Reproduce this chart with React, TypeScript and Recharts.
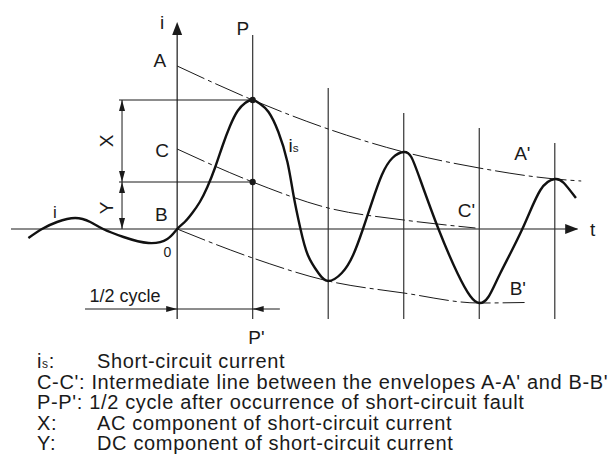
import { ComposedChart, Line, XAxis, YAxis, ReferenceLine, ReferenceDot } from "recharts";

// time in half-cycles after fault, current in arbitrary units
const waveT = [
  -1.97, -1.79, -1.59, -1.35, -1.15, -0.98, -0.71, -0.38, -0.13, 0,
  0.1, 0.2, 0.3, 0.4, 0.5, 0.6, 0.7, 0.8, 0.9, 1.0,
  1.1, 1.21, 1.34, 1.46, 1.54, 1.63, 1.73, 1.87, 2.0,
  2.18, 2.33, 2.46, 2.58, 2.71, 2.85, 3.0,
  3.1, 3.22, 3.46, 3.71, 3.88, 4.0,
  4.12, 4.28, 4.57, 4.81, 5.0, 5.12, 5.28,
];
const waveI = [
  -0.9, 0, 0.7, 1.1, 0.7, 0, -0.8, -1.4, -1.0, 0,
  0.7, 1.6, 2.7, 4.2, 6.1, 8.3, 10.3, 11.8, 12.6, 12.9,
  12.5, 11.7, 9.7, 6.7, 3.4, 0.1, -2.6, -4.4, -5.2,
  -4.4, -2.6, 0, 2.7, 5.4, 7.1, 7.7,
  7.2, 4.9, 0, -4.4, -6.7, -7.4,
  -6.8, -4.4, 0, 3.9, 5.0, 4.6, 3.1,
];

// envelopes A-A', B-B' and intermediate line C-C'
const envAT = [0, 1, 2, 3, 4, 5, 5.35];
const envAI = [16.3, 12.9, 10.0, 7.7, 6.1, 5.0, 4.8];
const envBT = [0, 1, 2, 3, 4, 4.6];
const envBI = [0, -2.9, -5.2, -6.4, -7.4, -7.35];
const envCT = [0, 1, 2, 3, 3.95];
const envCI = [8.0, 4.7, 2.1, 0.9, 0.1];

// peaks / troughs marked by vertical lines (t, top of line)
const markT = [1, 2, 3, 4, 5];
const markTop = [19.4, 14.1, 11.6, 10.1, 8.6];

const peakI = 12.9; // X + Y
const dcI = 4.7; // Y

const legendKeys = ["i|s:", "C-C':", "P-P':", "X:", "Y:"];
const legendText = [
  "Short-circuit current",
  "Intermediate line between the envelopes A-A' and B-B'",
  "1/2 cycle after occurrence of short-circuit fault",
  "AC component of short-circuit current",
  "DC component of short-circuit current",
];

const zip = (ts: number[], is: number[]) => ts.map((t, k) => ({ t, i: is[k] }));
const wave = zip(waveT, waveI);
const envA = zip(envAT, envAI);
const envB = zip(envBT, envBI);
const envC = zip(envCT, envCI);

const FONT = "'Liberation Sans', Arial, sans-serif";
const INK = "#1a1a1a";

const arrow = (dir: string, len = 12, half = 5) => (p: any) => {
  const { cx, cy } = p;
  let pts = "";
  if (dir === "right") pts = `${cx},${cy} ${cx - len},${cy - half} ${cx - len},${cy + half}`;
  if (dir === "left") pts = `${cx},${cy} ${cx + len},${cy - half} ${cx + len},${cy + half}`;
  if (dir === "up") pts = `${cx},${cy} ${cx - half},${cy + len} ${cx + half},${cy + len}`;
  return <polygon points={pts} fill={INK} />;
};

const label = (text: string, size = 18, rotate = 0, sub?: string) => (p: any) => (
  <text
    x={p.cx}
    y={p.cy}
    fontSize={size}
    fontFamily={FONT}
    fill={INK}
    textAnchor="middle"
    dominantBaseline="central"
    transform={rotate ? `rotate(${rotate} ${p.cx} ${p.cy})` : undefined}
  >
    {text}
    {sub && <tspan fontSize={size * 0.62} dy={2}>{sub}</tspan>}
  </text>
);

const dimLine = (p: any) => {
  const { x1, y1, y2 } = p;
  const top = Math.min(y1, y2);
  const bot = Math.max(y1, y2);
  return (
    <g>
      <line x1={x1} y1={top} x2={x1} y2={bot} stroke={INK} strokeWidth={1} />
      <polygon points={`${x1},${top} ${x1 - 3},${top + 11} ${x1 + 3},${top + 11}`} fill={INK} />
      <polygon points={`${x1},${bot} ${x1 - 3},${bot - 11} ${x1 + 3},${bot - 11}`} fill={INK} />
    </g>
  );
};

const dot = (p: any) => <circle cx={p.cx} cy={p.cy} r={3.2} fill={INK} />;

const App = () => {
  return (
    <div style={{ position: "absolute", left: 0, top: 0, width: 611, height: 466, background: "#fff" }}>
      <ComposedChart width={611} height={466} margin={{ top: 19, right: 26, bottom: 147, left: 11 }}>
        <XAxis type="number" dataKey="t" domain={[-2.2, 5.4]} hide allowDataOverflow />
        <YAxis type="number" dataKey="i" domain={[-9, 21]} hide allowDataOverflow />

        {/* axes */}
        <ReferenceLine segment={[{ x: -2.2, y: 0 }, { x: 5.3, y: 0 }]} stroke={INK} strokeWidth={1.2} />
        <ReferenceDot x={5.31} y={0} shape={arrow("right", 13, 5)} ifOverflow="visible" />
        <ReferenceLine segment={[{ x: 0, y: -9 }, { x: 0, y: 20.4 }]} stroke={INK} strokeWidth={1.2} />
        <ReferenceDot x={0} y={20.7} shape={arrow("up", 13, 5)} ifOverflow="visible" />

        {/* vertical marks at peaks */}
        {markT.map((t, k) => (
          <ReferenceLine key={t} segment={[{ x: t, y: -9 }, { x: t, y: markTop[k] }]} stroke="#333" strokeWidth={1.2} />
        ))}

        {/* X / Y construction */}
        <ReferenceLine segment={[{ x: -0.77, y: peakI }, { x: 1, y: peakI }]} stroke={INK} strokeWidth={1} />
        <ReferenceLine segment={[{ x: -0.77, y: dcI }, { x: 1, y: dcI }]} stroke={INK} strokeWidth={1} />
        <ReferenceLine segment={[{ x: -0.73, y: peakI }, { x: -0.73, y: dcI }]} shape={dimLine} />
        <ReferenceLine segment={[{ x: -0.73, y: dcI }, { x: -0.73, y: 0 }]} shape={dimLine} />

        {/* 1/2 cycle dimension */}
        <ReferenceLine segment={[{ x: -1.22, y: -8 }, { x: 1.36, y: -8 }]} stroke={INK} strokeWidth={1} />
        <ReferenceDot x={0} y={-8} shape={arrow("right", 11, 3)} />
        <ReferenceDot x={1} y={-8} shape={arrow("left", 11, 3)} />

        {/* envelopes */}
        <Line data={envA} dataKey="i" type="monotone" dot={false} stroke={INK} strokeWidth={1} strokeDasharray="30 4 4 4" isAnimationActive={false} />
        <Line data={envB} dataKey="i" type="monotone" dot={false} stroke={INK} strokeWidth={1} strokeDasharray="30 4 4 4" isAnimationActive={false} />
        <Line data={envC} dataKey="i" type="monotone" dot={false} stroke={INK} strokeWidth={1} strokeDasharray="30 4 4 4" isAnimationActive={false} />

        {/* short-circuit current */}
        <Line data={wave} dataKey="i" type="natural" dot={false} stroke="#111" strokeWidth={2.4} isAnimationActive={false} />

        <ReferenceDot x={1} y={peakI} shape={dot} />
        <ReferenceDot x={1} y={dcI} shape={dot} />

        {/* labels */}
        <ReferenceDot x={-0.2} y={20.7} shape={label("i", 19)} ifOverflow="visible" />
        <ReferenceDot x={0.87} y={20.1} shape={label("P", 19)} ifOverflow="visible" />
        <ReferenceDot x={-0.23} y={16.9} shape={label("A", 19)} />
        <ReferenceDot x={-0.2} y={7.9} shape={label("C", 19)} />
        <ReferenceDot x={-0.21} y={1.5} shape={label("B", 19)} />
        <ReferenceDot x={-0.13} y={-2.3} shape={label("0", 14)} />
        <ReferenceDot x={-1.62} y={1.7} shape={label("i", 17)} />
        <ReferenceDot x={1.54} y={8.4} shape={label("i", 19, 0, "s")} />
        <ReferenceDot x={-0.93} y={8.8} shape={label("X", 19, -90)} />
        <ReferenceDot x={-0.93} y={2.1} shape={label("Y", 19, -90)} />
        <ReferenceDot x={-0.69} y={-6.7} shape={label("1/2 cycle", 18)} />
        <ReferenceDot x={1.05} y={-10.8} shape={label("P'", 19)} ifOverflow="visible" />
        <ReferenceDot x={4.57} y={7.6} shape={label("A'", 19)} />
        <ReferenceDot x={3.83} y={1.9} shape={label("C'", 19)} />
        <ReferenceDot x={4.51} y={-5.9} shape={label("B'", 19)} />
        <ReferenceDot x={5.5} y={0} shape={label("t", 19)} ifOverflow="visible" />
      </ComposedChart>

      <svg width={611} height={466} style={{ position: "absolute", left: 0, top: 0, pointerEvents: "none" }}>
        {legendKeys.map((key, k) => {
          const [main, sub] = key.split("|");
          const y = 368 + k * 20.6;
          const inline = main.length > 2;
          return (
            <g key={key} fontFamily={FONT} fontSize={20} letterSpacing={0.65} fill={INK}>
              {inline ? (
                <text x={37} y={y}>{`${main} ${legendText[k]}`}</text>
              ) : (
                <>
                  <text x={37} y={y}>
                    {main}
                    {sub && (
                      <>
                        <tspan fontSize={12}>{sub.slice(0, 1)}</tspan>
                        <tspan>{sub.slice(1)}</tspan>
                      </>
                    )}
                  </text>
                  <text x={97} y={y}>{legendText[k]}</text>
                </>
              )}
            </g>
          );
        })}
      </svg>
    </div>
  );
};

export default App;
